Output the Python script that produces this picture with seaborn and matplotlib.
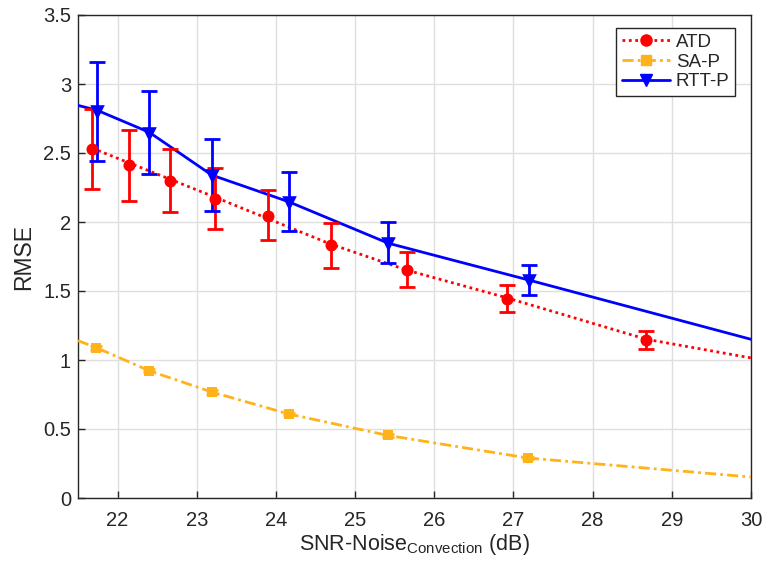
import numpy as np
import pandas as pd
import matplotlib
matplotlib.use("Agg")
import matplotlib.pyplot as plt
import seaborn as sns
from matplotlib.lines import Line2D

# ---- data ----
atd_x = [21.68, 22.15, 22.66, 23.23, 23.90, 24.69, 25.66, 26.92, 28.68]
atd_y = [2.53, 2.41, 2.30, 2.17, 2.04, 1.83, 1.65, 1.445, 1.145]
atd_lo = [2.24, 2.15, 2.07, 1.95, 1.87, 1.67, 1.53, 1.35, 1.08]
atd_hi = [2.82, 2.67, 2.53, 2.39, 2.23, 1.99, 1.78, 1.54, 1.21]
atd_line_x = [21.68, 23.23, 24.69, 25.66, 26.92, 28.68, 30.0]
atd_line_y = [2.535, 2.18, 1.84, 1.65, 1.45, 1.15, 1.015]

sap_x = [21.73, 22.40, 23.19, 24.16, 25.41, 27.18]
sap_y = [1.09, 0.922, 0.768, 0.609, 0.454, 0.29]
sap_err = [0.015, 0.012, 0.012, 0.01, 0.01, 0.01]
sap_line_x = [21.5, 21.73, 22.40, 23.19, 24.16, 25.41, 27.18, 30.0]
sap_line_y = [1.14, 1.09, 0.922, 0.768, 0.609, 0.454, 0.29, 0.152]

rtt_x = [21.74, 22.40, 23.19, 24.16, 25.42, 27.19]
rtt_y = [2.80, 2.64, 2.33, 2.14, 1.84, 1.57]
rtt_lo = [2.44, 2.35, 2.08, 1.935, 1.70, 1.47]
rtt_hi = [3.16, 2.95, 2.60, 2.36, 2.00, 1.685]
rtt_line_x = [21.5, 21.74, 22.40, 23.19, 24.16, 25.42, 27.19, 30.0]
rtt_line_y = [2.845, 2.81, 2.65, 2.34, 2.147, 1.846, 1.58, 1.15]

xticks = [22, 23, 24, 25, 26, 27, 28, 29, 30]
yticks = [0, 0.5, 1, 1.5, 2, 2.5, 3, 3.5]
ytick_labels = ["0", "0.5", "1", "1.5", "2", "2.5", "3", "3.5"]

RED = "#FF0000"
ORANGE = "#FFB21A"
BLUE = "#0000FF"

sns.set_theme(style="whitegrid")
plt.rcParams["font.family"] = ["Liberation Sans", "DejaVu Sans"]
plt.rcParams["mathtext.fontset"] = "custom"
plt.rcParams["mathtext.rm"] = "Liberation Sans"
plt.rcParams["mathtext.it"] = "Liberation Sans"

fig = plt.figure(figsize=(7.66, 5.72), dpi=100)
ax = fig.add_axes([78 / 766, 1 - 498 / 572, (751 - 78) / 766, (498 - 15) / 572])
ax.set_facecolor("white")

# fitted lines
sns.lineplot(x=atd_line_x, y=atd_line_y, ax=ax, color=RED, linestyle=(0, (1, 1.3)),
             linewidth=2.0, sort=False, zorder=3)
sns.lineplot(x=sap_line_x, y=sap_line_y, ax=ax, color=ORANGE, linestyle=(0, (4, 1.5, 1, 1.5)),
             linewidth=2.0, sort=False, zorder=3)
sns.lineplot(x=rtt_line_x, y=rtt_line_y, ax=ax, color=BLUE, linestyle="-",
             linewidth=2.0, sort=False, zorder=3)

# error bars
ax.errorbar(atd_x, atd_y,
            yerr=[np.array(atd_y) - np.array(atd_lo), np.array(atd_hi) - np.array(atd_y)],
            fmt="none", ecolor=RED, elinewidth=2.0, capsize=5.5, capthick=2.0, zorder=4)
ax.errorbar(sap_x, sap_y, yerr=sap_err, fmt="none", ecolor=ORANGE, elinewidth=2.0,
            capsize=4, capthick=2.0, zorder=4)
ax.errorbar(rtt_x, rtt_y,
            yerr=[np.array(rtt_y) - np.array(rtt_lo), np.array(rtt_hi) - np.array(rtt_y)],
            fmt="none", ecolor=BLUE, elinewidth=2.0, capsize=5.5, capthick=2.0, zorder=5)

# markers
sns.scatterplot(x=atd_x, y=atd_y, ax=ax, color=RED, marker="o", s=75, edgecolor=RED,
                linewidth=0, zorder=6)
sns.scatterplot(x=sap_x, y=sap_y, ax=ax, color=ORANGE, marker="s", s=50, edgecolor=ORANGE,
                linewidth=0, zorder=6)
sns.scatterplot(x=rtt_x, y=rtt_y, ax=ax, color=BLUE, marker="v", s=110, edgecolor=BLUE,
                linewidth=0, zorder=7)

ax.set_xlim(21.5, 30)
ax.set_ylim(0, 3.5)
ax.set_xticks(xticks)
ax.set_xticklabels([str(t) for t in xticks])
ax.set_yticks(yticks)
ax.set_yticklabels(ytick_labels)

ax.grid(True, color="#DFDFDF", linewidth=1.0)
ax.set_axisbelow(True)
for side in ["left", "bottom", "top", "right"]:
    ax.spines[side].set_visible(True)
    ax.spines[side].set_color("#262626")
    ax.spines[side].set_linewidth(1.0)
ax.tick_params(axis="both", direction="in", length=5, width=1, color="#262626",
               labelsize=14.5, labelcolor="#262626", top=False, right=False,
               bottom=True, left=True)
ax.tick_params(axis="x", pad=9)
ax.tick_params(axis="y", pad=5)

ax.set_xlabel(r"SNR-Noise$_{\mathrm{Convection}}$ (dB)", fontsize=15.5, color="#262626", labelpad=2)
ax.set_ylabel("RMSE", fontsize=16.5, color="#262626", labelpad=6)

handles = [
    Line2D([], [], color=RED, linestyle=(0, (1, 1.3)), linewidth=2.0, marker="o", markersize=8),
    Line2D([], [], color=ORANGE, linestyle=(0, (4, 1.5, 1, 1.5)), linewidth=2.0, marker="s", markersize=7),
    Line2D([], [], color=BLUE, linestyle="-", linewidth=2.0, marker="v", markersize=9),
]
leg = ax.legend(handles, ["ATD", "SA-P", "RTT-P"], loc="upper right",
                bbox_to_anchor=(0.985, 0.985), fontsize=13.5, frameon=True, fancybox=False,
                edgecolor="#262626", framealpha=1, handlelength=2.6, handletextpad=0.3,
                borderpad=0.3, labelspacing=0.15, borderaxespad=0.3)
leg.get_frame().set_linewidth(1.0)

fig.savefig("out.png", dpi=100)
